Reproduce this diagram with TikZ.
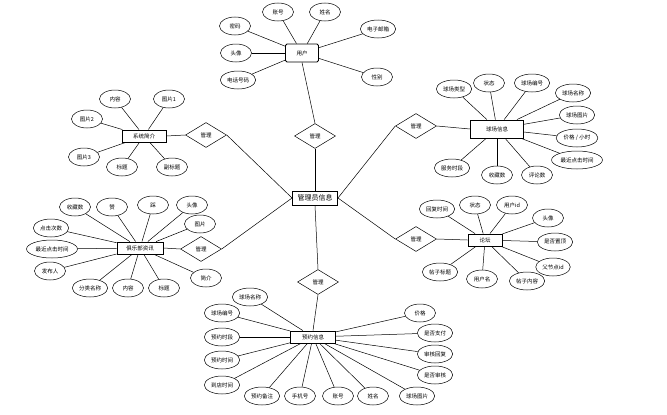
\documentclass[tikz,border=0pt]{standalone}
\usepackage{fontspec}
\newfontfamily\cjk{Noto Sans CJK SC}
\usetikzlibrary{shapes.geometric}
\begin{document}
\begin{tikzpicture}[x=1pt,y=-1pt,
  every node/.style={font=\cjk\fontsize{5.5}{6}\selectfont, inner sep=1.5pt},
  attr/.style={draw, ellipse, minimum width=31pt, minimum height=18pt, line width=0.5pt},
  ent/.style={draw, rectangle, minimum height=12pt, line width=0.9pt, fill=white},
  rel/.style={draw, diamond, minimum width=41pt, minimum height=25pt, line width=0.5pt},
  ln/.style={line width=0.5pt}]
\useasboundingbox (0,0) rectangle (667,415);

% center
\node[ent, minimum width=45pt, minimum height=14pt, font=\cjk\fontsize{7}{8}\selectfont] (adm) at (315,198) {管理员信息};

% diamonds
\node[rel] (dTop) at (315,136) {管理};
\node[rel] (dLT) at (206,135) {管理};
\node[rel] (dLM) at (201,249) {管理};
\node[rel] (dRT) at (416,126) {管理};
\node[rel] (dRM) at (416,239) {管理};
\node[rel] (dB) at (318,282) {管理};

\draw[ln] (adm.north) -- (dTop.south);
\draw[ln] (adm.west) -- (dLT.east);
\draw[ln] (adm.west) -- (dLM.east);
\draw[ln] (adm.east) -- (dRT.west);
\draw[ln] (adm.east) -- (dRM.west);
\draw[ln] (adm.south) -- (dB.north);

% user
\node[ent, rounded corners=1.5pt, minimum width=33pt, minimum height=18pt] (usr) at (302,53) {用户};
\draw[ln] (usr.south) -- (dTop.north);
\foreach \n/\p/\t in {u1/{(278,12)}/账号, u2/{(325,12)}/姓名, u3/{(235,26)}/密码, u4/{(236,53)}/头像, u5/{(238,80)}/电话号码, u6/{(378,29)}/电子邮箱, u7/{(377,77)}/性别}{
  \node[attr] (\n) at \p {\t};
  \draw[ln] (\n) -- (usr);
}

% system intro
\node[ent, minimum width=44pt] (sys) at (144,136) {系统简介};
\draw[ln] (sys.east) -- (dLT.west);
\foreach \n/\p/\t in {s1/{(115,99)}/内容, s2/{(169,99)}/图片1, s3/{(87,119)}/图片2, s4/{(84,157)}/图片3, s5/{(122,167)}/标题, s6/{(172,167)}/副标题}{
  \node[attr] (\n) at \p {\t};
  \draw[ln] (\n) -- (sys);
}

% court info
\node[ent, minimum width=53pt, minimum height=18pt] (crt) at (497,129) {球场信息};
\draw[ln] (dRT.east) -- (crt.west);
\foreach \n/\p/\t in {c1/{(454,89)}/球场类型, c2/{(489,83)}/状态, c3/{(532,83)}/球场编号, c4/{(573,93)}/球场名称, c5/{(577,115)}/球场图片, c6/{(577,138)}/{价格 / 小时}, c7/{(577,160)}/最近点击时间, c8/{(537,175)}/评论数, c9/{(497,175)}/收藏数, c10/{(452,168)}/服务时段}{
  \node[attr] (\n) at \p {\t};
  \draw[ln] (\n) -- (crt);
}

% club news
\node[ent, minimum width=46pt] (news) at (140,248) {俱乐部资讯};
\draw[ln] (news.east) -- (dLM.west);
\foreach \n/\p/\t in {n1/{(75,207)}/收藏数, n2/{(112,207)}/赞, n3/{(153,205)}/踩, n4/{(192,205)}/头像, n5/{(200,224)}/图片, n6/{(51,228)}/点击次数, n7/{(52,249)}/最近点击时间, n8/{(50,271)}/发布人, n9/{(90,288)}/分类名称, n10/{(128,288)}/内容, n11/{(164,288)}/标题, n12/{(206,278)}/简介}{
  \node[attr] (\n) at \p {\t};
  \draw[ln] (\n) -- (news);
}

% forum
\node[ent, minimum width=34pt] (frm) at (485,240) {论坛};
\draw[ln] (dRM.east) -- (frm.west);
\foreach \n/\p/\t in {f1/{(437,209)}/回复时间, f2/{(475,205)}/状态, f3/{(512,205)}/用户id, f4/{(548,218)}/头像, f5/{(555,242)}/是否置顶, f6/{(553,267)}/父节点id, f7/{(527,281)}/帖子内容, f8/{(482,279)}/用户名, f9/{(440,272)}/帖子标题}{
  \node[attr] (\n) at \p {\t};
  \draw[ln] (\n) -- (frm);
}

% booking
\node[ent, minimum width=45pt] (bk) at (313,337) {预约信息};
\draw[ln] (dB.south) -- (bk.north);
\foreach \n/\p/\t in {b1/{(250,297)}/球场名称, b2/{(222,313)}/球场编号, b3/{(222,337)}/预约时段, b4/{(222,360)}/预约时间, b5/{(222,385)}/到店时间, b6/{(262,396)}/预约备注, b7/{(300,396)}/手机号, b8/{(338,396)}/账号, b9/{(373,396)}/姓名, b10/{(417,396)}/球场图片, b11/{(420,313)}/价格, b12/{(435,333)}/是否支付, b13/{(435,354)}/审核回复, b14/{(435,375)}/是否审核}{
  \node[attr] (\n) at \p {\t};
  \draw[ln] (\n) -- (bk);
}
\end{tikzpicture}
\end{document}
